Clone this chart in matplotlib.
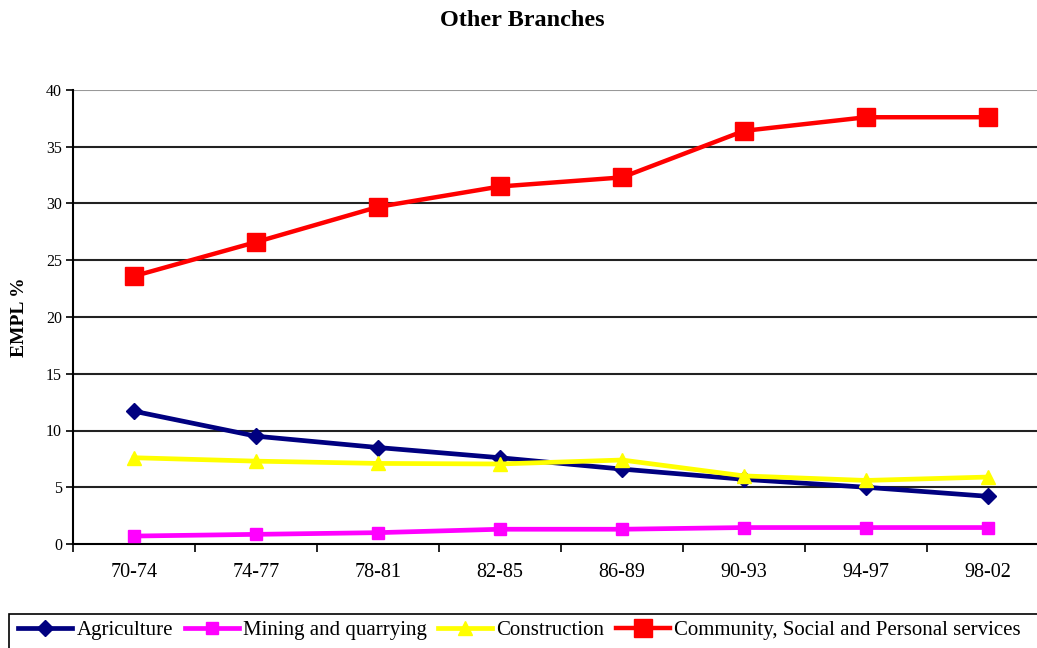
import matplotlib
matplotlib.use("Agg")
import matplotlib.pyplot as plt
from matplotlib.patches import Rectangle
from matplotlib.ticker import FixedLocator

plt.rcParams["font.family"] = ["Liberation Serif", "DejaVu Serif"]

periods = ["70-74", "74-77", "78-81", "82-85", "86-89", "90-93", "94-97", "98-02"]
agriculture = [11.7, 9.5, 8.5, 7.6, 6.6, 5.7, 5.0, 4.2]
mining = [0.7, 0.85, 1.0, 1.3, 1.3, 1.45, 1.45, 1.45]
construction = [7.6, 7.3, 7.1, 7.05, 7.4, 6.0, 5.6, 5.9]
community = [23.6, 26.6, 29.7, 31.5, 32.3, 36.4, 37.6, 37.6]

W, H = 1037, 648
fig = plt.figure(figsize=(W / 100, H / 100), dpi=100)
# plot area runs slightly past the right edge of the canvas
ax = fig.add_axes([73 / W, 1 - 544 / H, (1049 - 73) / W, (544 - 90) / H])

x = list(range(len(periods)))
l1, = ax.plot(x, agriculture, color="#000080", lw=3.4, marker="D", ms=8.5,
              label="Agriculture", zorder=4)
l2, = ax.plot(x, mining, color="#ff00ff", lw=3.4, marker="s", ms=8.5,
              label="Mining and quarrying", zorder=4)
l3, = ax.plot(x, construction, color="#ffff00", lw=3.4, marker="^", ms=10,
              label="Construction", zorder=4)
l4, = ax.plot(x, community, color="#ff0000", lw=3.2, marker="s", ms=12.5,
              label="Community, Social and Personal services", zorder=5)

ax.set_xlim(-0.5, len(periods) - 0.5)
ax.set_ylim(0, 40)
ax.set_yticks(range(0, 41, 5))
ax.set_xticks(x)
ax.set_xticklabels(periods, fontsize=14.5)
ax.xaxis.set_minor_locator(FixedLocator([i + 0.5 for i in range(-1, len(periods))]))
ax.tick_params(axis="x", which="major", length=0, pad=14)
ax.tick_params(axis="x", which="minor", length=6, width=1.2, color="black")
ax.tick_params(axis="y", length=5, width=1.2, labelsize=11.5, pad=3)

for v in range(5, 40, 5):
    ax.axhline(v, color="#222222", lw=1.5, zorder=1)
ax.axhline(40, color="#999999", lw=1.5, zorder=1)

for s in ["top", "right"]:
    ax.spines[s].set_visible(False)
ax.spines["left"].set_linewidth(1.5)
ax.spines["bottom"].set_linewidth(1.5)

ax.set_ylabel("EMPL %", fontsize=14, fontweight="bold", labelpad=13)
fig.text(522 / W, 1 - 21 / H, "Other Branches", ha="center", va="center",
         fontsize=17.5, fontweight="bold")

leg = fig.legend(handles=[l1, l2, l3, l4], loc="upper left",
                 bbox_to_anchor=(12 / W, 1 - 614 / H), ncol=4, fontsize=15,
                 frameon=False, handlelength=2.6, handletextpad=0.2,
                 columnspacing=0.55, borderpad=0.3, borderaxespad=0)

# legend box, cut off by the right and bottom edges of the canvas
fig.patches.append(Rectangle((9 / W, -0.02), (1060 - 9) / W, 0.02 + 1 - 614 / H,
                             transform=fig.transFigure, fill=False,
                             edgecolor="black", lw=1.2))

fig.savefig("out.png", dpi=100)
